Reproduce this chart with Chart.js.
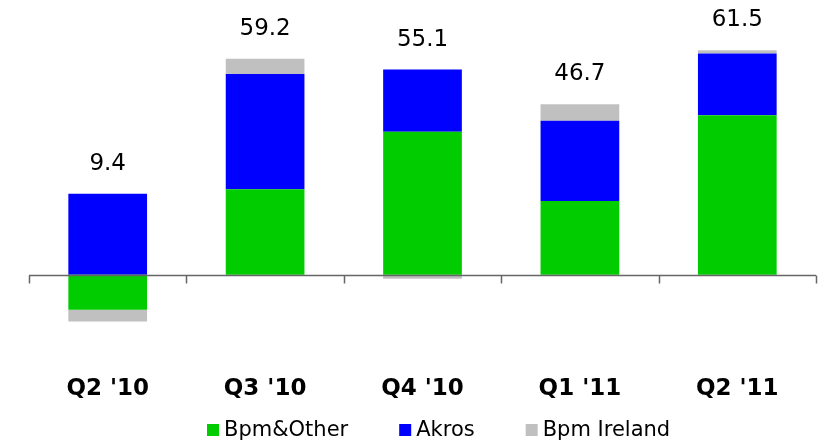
<!DOCTYPE html>
<html>
<head>
<meta charset="utf-8">
<script src="https://cdn.jsdelivr.net/npm/chart.js@4/dist/chart.umd.min.js"></script>
<style>
    html, body { margin: 0; padding: 0; background: #fff; }
    #wrap { width: 819px; height: 441px; position: relative; }
</style>
</head>
<body>
<div id="wrap"><canvas id="chart"></canvas></div>
<script>
// Quarter labels and the three stacked series (EUR m)
const quarters = ["Q2 '10", "Q3 '10", "Q4 '10", "Q1 '11", "Q2 '11"];
const bpmOther = [-9.6, 23.4, 39.2, 20.2, 43.7];
const akros = [22.2, 31.6, 17.0, 22.0, 16.9];
const bpmIreland = [-3.2, 4.2, -1.1, 4.5, 0.9];

const seriesNames = ['Bpm&Other', 'Akros', 'Bpm Ireland'];
const seriesColors = ['#00CC00', '#0000FF', '#C0C0C0'];

const FONT = "'DejaVu Sans', Verdana, sans-serif";

// Zero line with category tick marks hanging below it
const zeroAxis = {
    id: 'zeroAxis',
    afterDatasetsDraw(chart) {
        const { ctx, chartArea, scales } = chart;
        const y0 = Math.round(scales.y.getPixelForValue(0)) + 0.5;
        const step = scales.x.getPixelForValue(1) - scales.x.getPixelForValue(0);
        ctx.save();
        ctx.strokeStyle = '#666666';
        ctx.lineWidth = 1.5;
        ctx.beginPath();
        ctx.moveTo(chartArea.left, y0);
        ctx.lineTo(chartArea.right, y0);
        for (let i = 0; i <= quarters.length; i++) {
            const xb = Math.round(scales.x.getPixelForValue(0) - step / 2 + i * step) + 0.5;
            ctx.moveTo(xb, y0);
            ctx.lineTo(xb, y0 + 8);
        }
        ctx.stroke();
        ctx.restore();
    }
};

// Totals written above the positive part of each stack
const totalLabels = {
    id: 'totalLabels',
    afterDatasetsDraw(chart) {
        const { ctx, scales } = chart;
        ctx.save();
        ctx.font = '23px ' + FONT;
        ctx.fillStyle = '#000';
        ctx.textAlign = 'center';
        ctx.textBaseline = 'middle';
        quarters.forEach((q, i) => {
            const vals = [bpmOther[i], akros[i], bpmIreland[i]];
            const total = vals.reduce((a, b) => a + b, 0);
            const pos = vals.filter(v => v > 0).reduce((a, b) => a + b, 0);
            const x = scales.x.getPixelForValue(i);
            const y = scales.y.getPixelForValue(pos) - 30;
            ctx.fillText(total.toFixed(1), x, y);
        });
        ctx.restore();
    }
};

// Compact legend: square box, short gap, label
const boxLegend = {
    id: 'boxLegend',
    afterDraw(chart) {
        const { ctx } = chart;
        ctx.save();
        ctx.font = '21px ' + FONT;
        ctx.textBaseline = 'middle';
        ctx.textAlign = 'left';
        let x = 207;
        const y = 430;
        seriesNames.forEach((name, i) => {
            ctx.fillStyle = seriesColors[i];
            ctx.fillRect(x, y - 6, 12, 12);
            ctx.fillStyle = '#000';
            ctx.fillText(name, x + 17, y + 1);
            x += 17 + ctx.measureText(name).width + 51;
        });
        ctx.restore();
    }
};

new Chart(document.getElementById('chart'), {
    type: 'bar',
    data: {
        labels: quarters,
        datasets: [
            { label: seriesNames[0], data: bpmOther, backgroundColor: seriesColors[0] },
            { label: seriesNames[1], data: akros, backgroundColor: seriesColors[1] },
            { label: seriesNames[2], data: bpmIreland, backgroundColor: seriesColors[2] }
        ]
    },
    options: {
        responsive: true,
        maintainAspectRatio: false,
        animation: false,
        categoryPercentage: 1,
        barPercentage: 0.5,
        layout: { padding: { left: 29, right: 3, top: 1, bottom: 30 } },
        plugins: {
            legend: { display: false },
            tooltip: { enabled: false }
        },
        scales: {
            x: {
                stacked: true,
                grid: { display: false, drawTicks: false },
                border: { display: false },
                afterFit(scale) { scale.height = 45; },
                ticks: {
                    color: '#000',
                    padding: 9,
                    font: { family: FONT, size: 23, weight: 'bold' }
                }
            },
            y: {
                stacked: true,
                display: false,
                min: -25,
                max: 75
            }
        }
    },
    plugins: [zeroAxis, totalLabels, boxLegend]
});
</script>
</body>
</html>
